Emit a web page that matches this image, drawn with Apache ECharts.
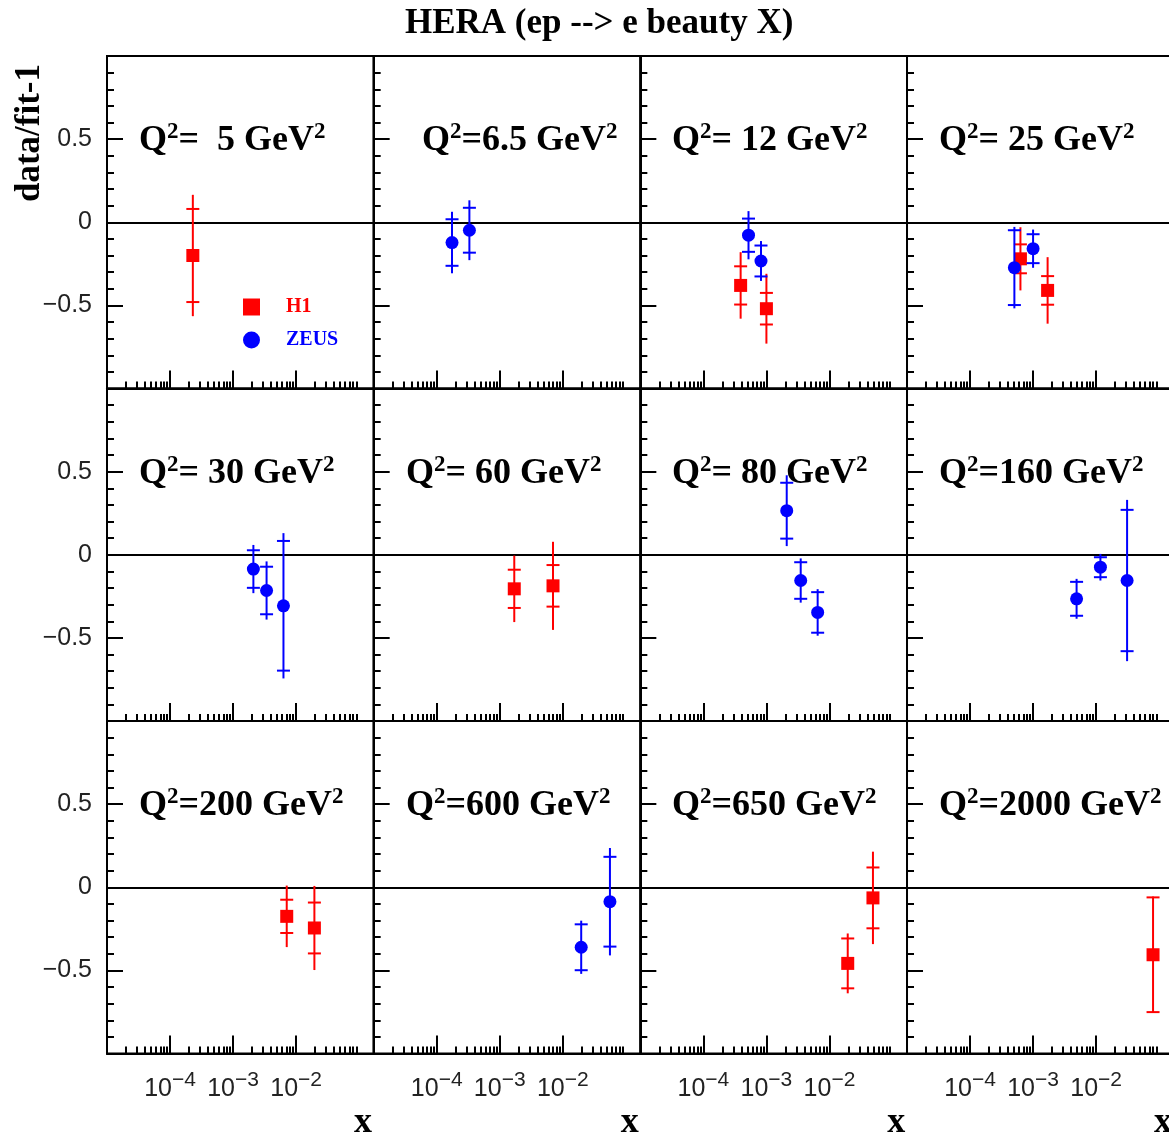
<!DOCTYPE html>
<html><head><meta charset="utf-8">
<script src="https://cdn.jsdelivr.net/npm/echarts@6/dist/echarts.min.js"></script>
<style>html,body{margin:0;padding:0;background:#fff}#c{width:1169px;height:1137px}</style>
</head><body><div id="c"></div>
<script>
// ---------------- data ----------------
const q2Labels = ['  5', '6.5', ' 12', ' 25', ' 30', ' 60', ' 80', '160', '200', '600', '650', '2000'];
const xMajorTicks = [1e-4, 1e-3, 1e-2];
const minorMantissas = [2, 3, 4, 5, 6, 7, 8, 9];
const minorDecades = [1e-5, 1e-4, 1e-3, 1e-2];
const yTickLabels = { '-0.5': '\u22120.5', '0': '0', '0.5': '0.5' };
const legendNames = ['H1', 'ZEUS'];
// [panel, x, data/fit-1, stat error, total error]
const h1Points = [
  [0, 2.3e-4, -0.20, 0.28, 0.365],
  [2, 3.9e-4, -0.38, 0.115, 0.20],
  [2, 1.0e-3, -0.52, 0.095, 0.21],
  [3, 6.3e-4, -0.22, 0.087, 0.19],
  [3, 1.7e-3, -0.41, 0.086, 0.20],
  [5, 1.7e-3, -0.205, 0.115, 0.20],
  [5, 7.0e-3, -0.187, 0.125, 0.265],
  [8, 7.1e-3, -0.175, 0.10, 0.185],
  [8, 1.95e-2, -0.245, 0.153, 0.253],
  [10, 1.95e-2, -0.458, 0.15, 0.18],
  [10, 4.9e-2, -0.064, 0.183, 0.278],
  [11, 8.0e-2, -0.406, 0.345, 0.35]
];
const zeusPoints = [
  [1, 1.75e-4, -0.122, 0.14, 0.185],
  [1, 3.3e-4, -0.048, 0.135, 0.18],
  [2, 5.2e-4, -0.078, 0.10, 0.145],
  [2, 8.2e-4, -0.233, 0.093, 0.12],
  [3, 5.05e-4, -0.273, 0.225, 0.245],
  [3, 1.0e-3, -0.159, 0.087, 0.115],
  [4, 2.1e-3, -0.086, 0.113, 0.145],
  [4, 3.4e-3, -0.215, 0.143, 0.175],
  [4, 6.3e-3, -0.307, 0.39, 0.437],
  [6, 2.1e-3, 0.265, 0.168, 0.213],
  [6, 3.5e-3, -0.155, 0.11, 0.133],
  [6, 6.5e-3, -0.347, 0.122, 0.14],
  [7, 4.9e-3, -0.265, 0.102, 0.12],
  [7, 1.17e-2, -0.075, 0.06, 0.08],
  [7, 3.1e-2, -0.155, 0.425, 0.485],
  [9, 1.96e-2, -0.361, 0.138, 0.16],
  [9, 5.6e-2, -0.087, 0.27, 0.323]
];

// ---------------- layout ----------------
const LEFT0 = 107, TOP0 = 56, PW = 266.67, PH = 332.5;
const labelLeft = [140, 423, 673, 940, 140, 407, 673, 940, 140, 407, 673, 940];
const SERIF = 'Liberation Serif', SANS = 'Liberation Sans';
const RED = '#ff0000', BLUE = '#0000ff';

const xMinorTicks = [];
minorDecades.forEach(d => minorMantissas.forEach(m => xMinorTicks.push(m * d)));

function makeRender(shape) {
  return function (params, api) {
    const x = api.value(0), y = api.value(1), st = api.value(2), tt = api.value(3);
    const c = api.coord([x, y]);
    const top = api.coord([x, y + tt])[1], bot = api.coord([x, y - tt])[1];
    const sTop = api.coord([x, y + st])[1], sBot = api.coord([x, y - st])[1];
    const color = api.visual('color');
    const hw = 6.5, ms = 6.5;
    const ls = { stroke: color, lineWidth: 2 };
    const children = [
      { type: 'line', shape: { x1: c[0], y1: top, x2: c[0], y2: bot }, style: ls },
      { type: 'line', shape: { x1: c[0] - hw, y1: sTop, x2: c[0] + hw, y2: sTop }, style: ls },
      { type: 'line', shape: { x1: c[0] - hw, y1: sBot, x2: c[0] + hw, y2: sBot }, style: ls }
    ];
    if (shape === 'rect') {
      children.push({ type: 'rect', shape: { x: c[0] - ms, y: c[1] - ms, width: 2 * ms, height: 2 * ms }, style: { fill: color } });
    } else {
      children.push({ type: 'circle', shape: { cx: c[0], cy: c[1], r: ms }, style: { fill: color } });
    }
    return { type: 'group', children };
  };
}

const grids = [], xAxes = [], yAxes = [], series = [], titles = [], graphics = [];

titles.push({
  text: 'HERA (ep --> e beauty X)', left: 405, top: 6, padding: 0,
  textStyle: { fontFamily: SERIF, fontWeight: 'bold', fontSize: 35, color: '#000' }
});

for (let g = 0; g < 12; g++) {
  const r = Math.floor(g / 4), c = g % 4;
  grids.push({
    left: LEFT0 + c * PW, top: TOP0 + r * PH, width: PW, height: PH,
    show: true, borderColor: '#000', borderWidth: 2, backgroundColor: 'transparent',
    containLabel: false, outerBoundsMode: 'none'
  });
  // major x axis (labels + long ticks)
  xAxes.push({
    type: 'log', logBase: 10, gridIndex: g, min: 1e-5, max: 0.17, position: 'bottom',
    axisLine: { show: true, onZero: false, lineStyle: { color: '#000', width: 2 } },
    axisTick: { show: true, inside: true, length: 18, lineStyle: { color: '#000', width: 2 }, customValues: xMajorTicks },
    axisLabel: {
      show: r === 2, customValues: xMajorTicks, margin: 16,
      formatter: v => '{m|10}{s|\u2212' + Math.round(-Math.log10(v)) + '}',
      rich: {
        m: { fontFamily: SANS, fontSize: 25, color: '#222', lineHeight: 40 },
        s: { fontFamily: SANS, fontSize: 21, color: '#222', lineHeight: 21, verticalAlign: 'top' }
      }
    },
    splitLine: { show: false }, minorTick: { show: false }, minorSplitLine: { show: false }
  });
  // minor x ticks
  xAxes.push({
    type: 'log', logBase: 10, gridIndex: g, min: 1e-5, max: 0.17, position: 'bottom',
    axisLine: { show: false, onZero: false },
    axisTick: { show: true, inside: true, length: 7, lineStyle: { color: '#000', width: 2 }, customValues: xMinorTicks },
    axisLabel: { show: false },
    splitLine: { show: false }
  });
  // major y axis
  yAxes.push({
    type: 'value', gridIndex: g, min: -1, max: 1, interval: 0.5, position: 'left',
    axisLine: { show: true, onZero: false, lineStyle: { color: '#000', width: 2 } },
    axisTick: { show: true, inside: true, length: 16, lineStyle: { color: '#000', width: 2 } },
    axisLabel: {
      show: c === 0, margin: 15, fontFamily: SANS, fontSize: 25, color: '#222',
      formatter: v => (yTickLabels[String(v)] !== undefined ? yTickLabels[String(v)] : '')
    },
    splitLine: { show: false }
  });
  // minor y ticks
  yAxes.push({
    type: 'value', gridIndex: g, min: -1, max: 1, interval: 0.1, position: 'left',
    axisLine: { show: false, onZero: false },
    axisTick: { show: true, inside: true, length: 7, lineStyle: { color: '#000', width: 2 } },
    axisLabel: { show: false },
    splitLine: { show: false }
  });
  // zero reference line
  series.push({
    type: 'scatter', xAxisIndex: 2 * g, yAxisIndex: 2 * g, data: [], silent: true,
    markLine: {
      silent: true, symbol: ['none', 'none'], label: { show: false }, animation: false,
      lineStyle: { color: '#000', width: 2, type: 'solid' },
      emphasis: { disabled: true },
      data: [{ yAxis: 0 }]
    }
  });
  const h = h1Points.filter(p => p[0] === g).map(p => p.slice(1));
  const z = zeusPoints.filter(p => p[0] === g).map(p => p.slice(1));
  if (h.length) series.push({
    type: 'custom', name: legendNames[0], xAxisIndex: 2 * g, yAxisIndex: 2 * g, data: h,
    renderItem: makeRender('rect'), itemStyle: { color: RED }, encode: { x: 0, y: 1 }, clip: false, z: 5
  });
  if (z.length) series.push({
    type: 'custom', name: legendNames[1], xAxisIndex: 2 * g, yAxisIndex: 2 * g, data: z,
    renderItem: makeRender('circle'), itemStyle: { color: BLUE }, encode: { x: 0, y: 1 }, clip: false, z: 5
  });
  titles.push({
    text: '{a|Q}{s|2}{a|=' + q2Labels[g] + ' GeV}{s|2}',
    left: labelLeft[g] - 1, top: TOP0 + r * PH + 83 - 18, padding: 0,
    textStyle: {
      rich: {
        a: { fontFamily: SERIF, fontWeight: 'bold', fontSize: 36, lineHeight: 40, color: '#000' },
        s: { fontFamily: SERIF, fontWeight: 'bold', fontSize: 23, lineHeight: 23, verticalAlign: 'top', color: '#000' }
      }
    }
  });
  if (r === 2) {
    graphics.push({
      type: 'text', x: LEFT0 + c * PW + 256, y: 1123,
      style: { text: 'x', font: 'bold 36px "Liberation Serif"', fill: '#000', textAlign: 'center', textVerticalAlign: 'middle' }
    });
  }
}

graphics.push({
  type: 'text', x: 30, y: 133, rotation: Math.PI / 2,
  style: { text: 'data/fit-1', font: 'bold 35px "Liberation Serif"', fill: '#000', textAlign: 'center', textVerticalAlign: 'middle' }
});

const chart = echarts.init(document.getElementById('c'), null, { renderer: 'canvas' });
chart.setOption({
  backgroundColor: '#fff',
  animation: false,
  title: titles,
  grid: grids,
  xAxis: xAxes,
  yAxis: yAxes,
  legend: {
    orient: 'vertical', left: 243, top: 297, padding: 0,
    itemWidth: 17, itemHeight: 17, itemGap: 13, selectedMode: false,
    textStyle: { fontFamily: SERIF, fontWeight: 'bold', fontSize: 20, padding: [0, 0, 0, 21] },
    data: [
      { name: legendNames[0], icon: 'rect', itemStyle: { color: RED }, textStyle: { color: RED } },
      { name: legendNames[1], icon: 'circle', itemStyle: { color: BLUE }, textStyle: { color: BLUE } }
    ]
  },
  graphic: graphics,
  series: series
});
</script>
</body></html>
